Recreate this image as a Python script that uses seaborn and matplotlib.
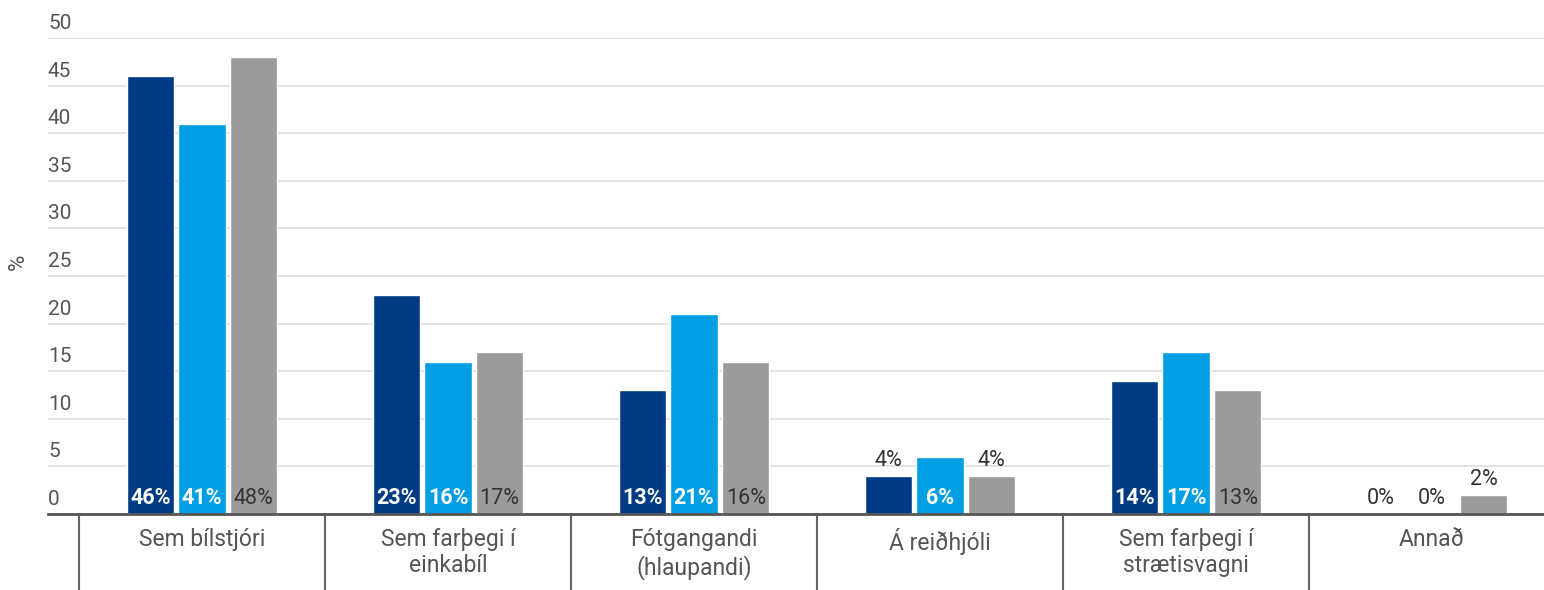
import numpy as np
import pandas as pd
import matplotlib
matplotlib.use('Agg')
import matplotlib.pyplot as plt
import matplotlib.transforms as mtransforms
import seaborn as sns

# -----------------------

categories = ['Sem bílstjóri', 'Sem farþegi í\neinkabíl', 'Fótgangandi\n(hlaupandi)',
              'Á reiðhjóli', 'Sem farþegi í\nstrætisvagni', 'Annað']
series = ['s1', 's2', 's3']
vals_s1 = [46, 23, 13, 4, 14, 0]
vals_s2 = [41, 16, 21, 6, 17, 0]
vals_s3 = [48, 17, 16, 4, 13, 2]
yticks = list(range(0, 51, 5))

colors = ['#003b84', '#009fe3', '#9b9b9b']
label_colors = ['white', 'white', '#333333']

# -----------------------

sns.set_style('white')
plt.rcParams['font.family'] = ['Roboto', 'DejaVu Sans']

df = pd.DataFrame({
    'cat': categories * 3,
    'series': [s for s in series for _ in categories],
    'val': vals_s1 + vals_s2 + vals_s3,
})

fig = plt.figure(figsize=(15.44, 5.90), dpi=100)
ax = fig.add_axes([48 / 1544, 76 / 590, 1 - 48 / 1544, (514 - 38) / 590])

sns.barplot(data=df, x='cat', y='val', hue='series', palette=colors, saturation=1,
            width=0.63, gap=0.08, legend=False, ax=ax, zorder=3)

ax.set_xlim(-0.626, 5.455)
ax.set_ylim(0, 50)
ax.set_yticks(yticks)
ax.grid(axis='y', color='#dedede', lw=1.2, zorder=0)
ax.set_axisbelow(True)
for s in ['top', 'right', 'left']:
    ax.spines[s].set_visible(False)
ax.spines['bottom'].set_color('#555555')
ax.spines['bottom'].set_linewidth(2)
ax.spines['bottom'].set_zorder(5)

ax.tick_params(axis='y', length=0, pad=0, labelsize=15, labelcolor='#555555')
for lab in ax.get_yticklabels():
    lab.set_ha('left')
    lab.set_va('bottom')
    lab.set_transform(lab.get_transform() + mtransforms.ScaledTranslation(0, 5 / 100, fig.dpi_scale_trans))

ax.tick_params(axis='x', length=0, pad=10, labelsize=16.5, labelcolor='#555555')
ax.set_xlabel('')
ax.set_ylabel('%', fontsize=16, color='#555555')
ax.yaxis.set_label_coords(-0.013, 0.53)

# category separators below the axis
trans = mtransforms.blended_transform_factory(ax.transData, ax.transAxes)
for b in np.arange(-0.5, 5, 1.0):
    ax.plot([b, b], [0, -0.17], transform=trans, color='#666666', lw=1.5, clip_on=False)

# value labels
for i, cont in enumerate(ax.containers):
    for bar in cont:
        v = bar.get_height()
        xc = bar.get_x() + bar.get_width() / 2
        if v >= 5:
            ax.text(xc, 0.5, '%d%%' % round(v), ha='center', va='bottom',
                    color=label_colors[i], fontsize=15.5,
                    fontweight='bold' if i < 2 else 'normal', zorder=6)
        else:
            ax.text(xc, v + 0.5, '%d%%' % round(v), ha='center', va='bottom',
                    color='#333333', fontsize=15.5, zorder=6)

plt.savefig('out.png', dpi=100)
